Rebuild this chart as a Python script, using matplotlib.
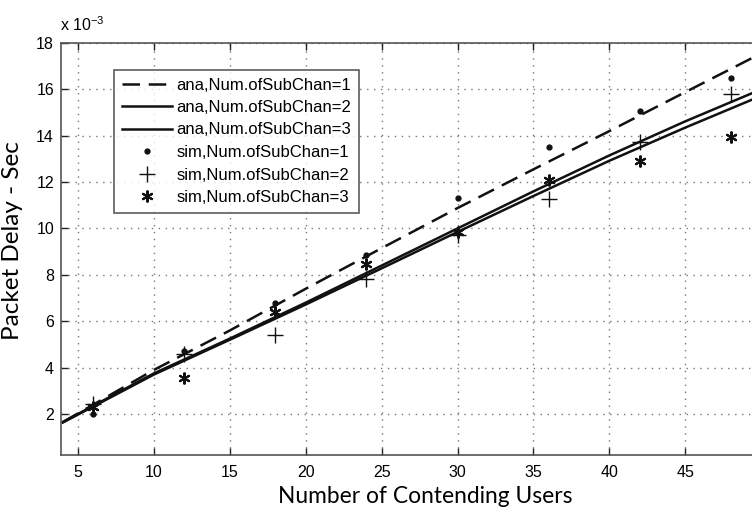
import matplotlib
matplotlib.use("Agg")
import matplotlib.pyplot as plt
import numpy as np

# ---- data (values in units of 1e-3 s) ----
x_ana = [4, 10, 15, 20, 25, 30, 35, 40, 45, 50]
ana1 = [1.65, 3.9, 5.6, 7.4, 9.15, 10.88, 12.55, 14.2, 15.88, 17.55]
ana2 = [1.65, 3.75, 5.25, 6.8, 8.4, 10.0, 11.6, 13.15, 14.62, 16.0]
ana3 = [1.63, 3.7, 5.2, 6.72, 8.28, 9.85, 11.4, 12.92, 14.35, 15.72]

x_sim = [6, 12, 18, 24, 30, 36, 42, 48]
sim1 = [2.0, 4.7, 6.78, 8.85, 11.3, 13.5, 15.05, 16.5]
sim2 = [2.43, 4.6, 5.4, 7.8, 9.7, 11.27, 13.75, 15.8]
sim3 = [2.3, 3.55, 6.39, 8.48, 9.85, 12.1, 12.9, 13.95]

labels = ["ana,Num.ofSubChan=1", "ana,Num.ofSubChan=2", "ana,Num.ofSubChan=3",
          "sim,Num.ofSubChan=1", "sim,Num.ofSubChan=2", "sim,Num.ofSubChan=3"]
x_ticks = [5, 10, 15, 20, 25, 30, 35, 40, 45]
y_ticks = [2, 4, 6, 8, 10, 12, 14, 16, 18]

plt.rcParams['font.family'] = ['Liberation Sans', 'DejaVu Sans']

fig = plt.figure(figsize=(7.52, 5.08), dpi=100)
ax = fig.add_axes([61/752, 1 - 455/508, 1 - 61/752, (455 - 43)/508])

c = '#111111'
ax.plot(x_ana, ana1, color=c, lw=1.8, ls=(0, (7, 3.5)), label=labels[0])
ax.plot(x_ana, ana2, color=c, lw=1.8, label=labels[1])
ax.plot(x_ana, ana3, color=c, lw=1.8, label=labels[2])
ax.plot(x_sim, sim1, ls='none', marker='o', ms=3.5, color=c, label=labels[3])
ax.plot(x_sim, sim2, ls='none', marker='+', ms=11, mew=1.0, color=c, label=labels[4])
ax.plot(x_sim, sim3, ls='none', marker=(6, 2, 0), ms=8.5, mew=1.5, color=c, label=labels[5])

ax.set_xlim(3.88, 49.4)
ax.set_ylim(0.23, 18)
ax.set_xticks(x_ticks)
ax.set_yticks(y_ticks)
ax.tick_params(direction='in', length=5, width=1, labelsize=11.5, top=True,
               right=False, colors='#222222', pad=7)
ax.tick_params(axis='y', pad=5)
for lab in ax.get_xticklabels() + ax.get_yticklabels():
    lab.set_color('black')

ax.grid(True, ls=(0, (1, 4)), color='#777777', lw=1.0)
for s in ['left', 'bottom', 'top']:
    ax.spines[s].set_color('#555555')
    ax.spines[s].set_linewidth(1.2)
ax.spines['right'].set_visible(False)

ax.set_xlabel('Number of Contending Users', family=['Lato', 'DejaVu Sans'],
              fontsize=16.4)
ax.xaxis.set_label_coords((425 - 61)/691, -0.075)
ax.set_ylabel('Packet Delay - Sec', family=['Lato', 'DejaVu Sans'],
              fontsize=17.5)
ax.yaxis.set_label_coords(-0.055, (455 - 241)/412)

fig.text(60/752, 1 - 31/508, r'x 10$^{\mathregular{-3}}$', fontsize=11.5, ha='left', va='baseline')

leg = ax.legend(loc='upper left', bbox_to_anchor=((114 - 61)/691, 1 - (70 - 43)/412),
                fontsize=12, frameon=True, fancybox=False, handlelength=3.0,
                handletextpad=0.3, labelspacing=0.45, borderpad=0.45, borderaxespad=0)
leg.get_frame().set_edgecolor('#333333')
leg.get_frame().set_linewidth(1.2)

fig.savefig('out.png', dpi=100)
